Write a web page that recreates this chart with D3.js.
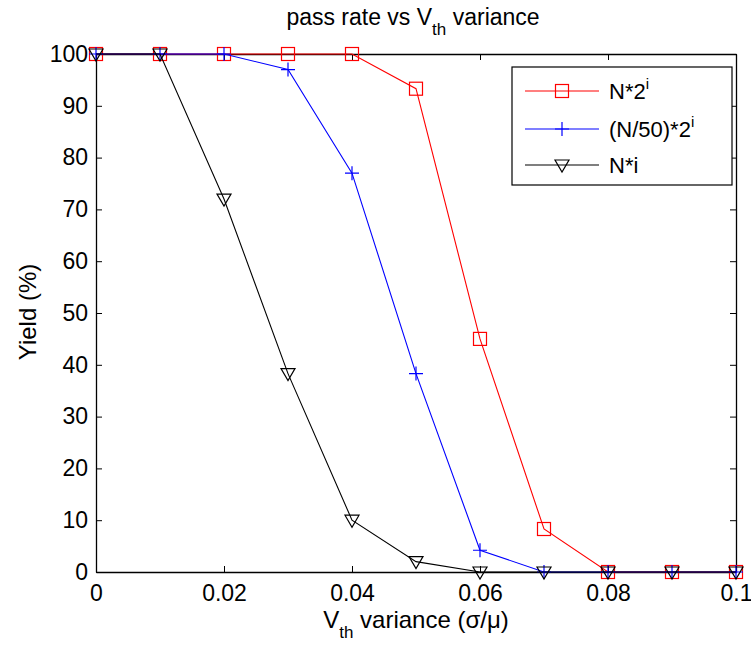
<!DOCTYPE html>
<html>
<head>
<meta charset="utf-8">
<script src="https://cdn.jsdelivr.net/npm/d3@7"></script>
<style>
  body { margin: 0; background: #fff; }
  svg text { font-family: "Liberation Sans", Arial, sans-serif; fill: #000; }
</style>
</head>
<body>
<div id="chart"></div>
<script>
// values
const xValues = [0, 0.01, 0.02, 0.03, 0.04, 0.05, 0.06, 0.07, 0.08, 0.09, 0.1];
const redYield = [100, 100, 100, 100, 100, 93.3, 45, 8.3, 0, 0, 0];
const blueYield = [100, 100, 100, 97, 77, 38.3, 4.2, 0, 0, 0, 0];
const blackYield = [100, 100, 72, 38.3, 10, 2, 0, 0, 0, 0, 0];
const xTicks = [0, 0.02, 0.04, 0.06, 0.08, 0.1];
const yTicks = [0, 10, 20, 30, 40, 50, 60, 70, 80, 90, 100];

const W = 751, H = 647;
const margin = { top: 54, right: 15, bottom: 75, left: 96 },
      width = 736 - margin.left,
      height = 572 - margin.top;

const svg = d3.select("#chart").append("svg")
    .attr("width", W)
    .attr("height", H);

const g = svg.append("g")
    .attr("transform", `translate(${margin.left},${margin.top})`);

const x = d3.scaleLinear().domain([0, 0.1]).range([0, width]);
const y = d3.scaleLinear().domain([0, 100]).range([height, 0]);

// axes, ticks pointing inward like matlab
const fmt = d => d === 0 ? "0" : d3.format("~g")(d);
const tickLen = 6;

const xAxis = g.append("g")
    .attr("transform", `translate(0,${height})`)
    .call(d3.axisBottom(x).tickValues(xTicks).tickFormat(fmt).tickSizeInner(-tickLen).tickSizeOuter(0).tickPadding(13));
const xTop = g.append("g")
    .call(d3.axisTop(x).tickValues(xTicks).tickFormat("").tickSizeInner(-tickLen).tickSizeOuter(0));
const yAxis = g.append("g")
    .call(d3.axisLeft(y).tickValues(yTicks).tickFormat(fmt).tickSizeInner(-tickLen).tickSizeOuter(0).tickPadding(8));
const yRight = g.append("g")
    .attr("transform", `translate(${width},0)`)
    .call(d3.axisRight(y).tickValues(yTicks).tickFormat("").tickSizeInner(-tickLen).tickSizeOuter(0));

[xAxis, xTop, yAxis, yRight].forEach(a => {
    a.select(".domain").attr("stroke", "#000").attr("stroke-width", 1.3);
    a.selectAll(".tick line").attr("stroke", "#000");
    a.selectAll(".tick text").style("font-size", "23px").attr("fill", "#000");
});
xAxis.selectAll(".tick text").attr("dy", "0.68em");

// series
const series = [
    { name: "N*2", sup: "i", values: redYield, color: "#ff0000", marker: "square" },
    { name: "(N/50)*2", sup: "i", values: blueYield, color: "#0000ff", marker: "plus" },
    { name: "N*i", sup: "", values: blackYield, color: "#000000", marker: "tri" }
];

const line = d3.line()
    .x(d => x(d[0]))
    .y(d => y(d[1]));

function drawMarker(sel, type, color) {
    if (type === "square") {
        sel.append("rect")
            .attr("x", -6.5).attr("y", -6.5)
            .attr("width", 13).attr("height", 13)
            .attr("fill", "none").attr("stroke", color).attr("stroke-width", 1.2);
    } else if (type === "plus") {
        sel.append("path")
            .attr("d", "M-7,0H7M0,-7V7")
            .attr("fill", "none").attr("stroke", color).attr("stroke-width", 1.2);
    } else {
        sel.append("path")
            .attr("d", "M-7,-5H7L0,7Z")
            .attr("fill", "none").attr("stroke", color).attr("stroke-width", 1.2);
    }
}

series.forEach(s => {
    const pts = xValues.map((v, i) => [v, s.values[i]]);
    g.append("path")
        .datum(pts)
        .attr("fill", "none")
        .attr("stroke", s.color)
        .attr("stroke-width", 1.1)
        .attr("d", line);
    g.selectAll(null)
        .data(pts)
        .enter()
        .append("g")
        .attr("transform", d => `translate(${x(d[0])},${y(d[1])})`)
        .each(function() { drawMarker(d3.select(this), s.marker, s.color); });
});

// legend
const legend = svg.append("g").attr("transform", "translate(512,67)");
legend.append("rect")
    .attr("width", 220).attr("height", 118)
    .attr("fill", "#fff").attr("stroke", "#000").attr("stroke-width", 1.2);

const legendY = [24, 62, 98];
series.forEach((s, i) => {
    const row = legend.append("g").attr("transform", `translate(0,${legendY[i]})`);
    row.append("line")
        .attr("x1", 13).attr("x2", 87)
        .attr("stroke", s.color).attr("stroke-width", 1.1);
    const m = row.append("g").attr("transform", "translate(50,0)");
    drawMarker(m, s.marker, s.color);
    const t = row.append("text")
        .attr("x", 97).attr("y", 8)
        .style("font-size", "22px")
        .text(s.name);
    if (s.sup) {
        t.append("tspan").attr("dy", -10).style("font-size", "15px").text(s.sup);
    }
});

// title
const title = svg.append("text")
    .attr("x", 413).attr("y", 25)
    .attr("text-anchor", "middle")
    .style("font-size", "23px");
title.append("tspan").text("pass rate vs V");
title.append("tspan").attr("dy", 10).style("font-size", "17px").text("th");
title.append("tspan").attr("dy", -10).text(" variance");

// x label
const xLabel = svg.append("text")
    .attr("x", 416).attr("y", 628)
    .attr("text-anchor", "middle")
    .style("font-size", "24px");
xLabel.append("tspan").text("V");
xLabel.append("tspan").attr("dy", 10).style("font-size", "17px").text("th");
xLabel.append("tspan").attr("dy", -10).text(" variance (σ/μ)");

// y label
svg.append("text")
    .attr("transform", "rotate(-90)")
    .attr("x", -312).attr("y", 36)
    .attr("text-anchor", "middle")
    .style("font-size", "24px")
    .text("Yield (%)");
</script>
</body>
</html>
